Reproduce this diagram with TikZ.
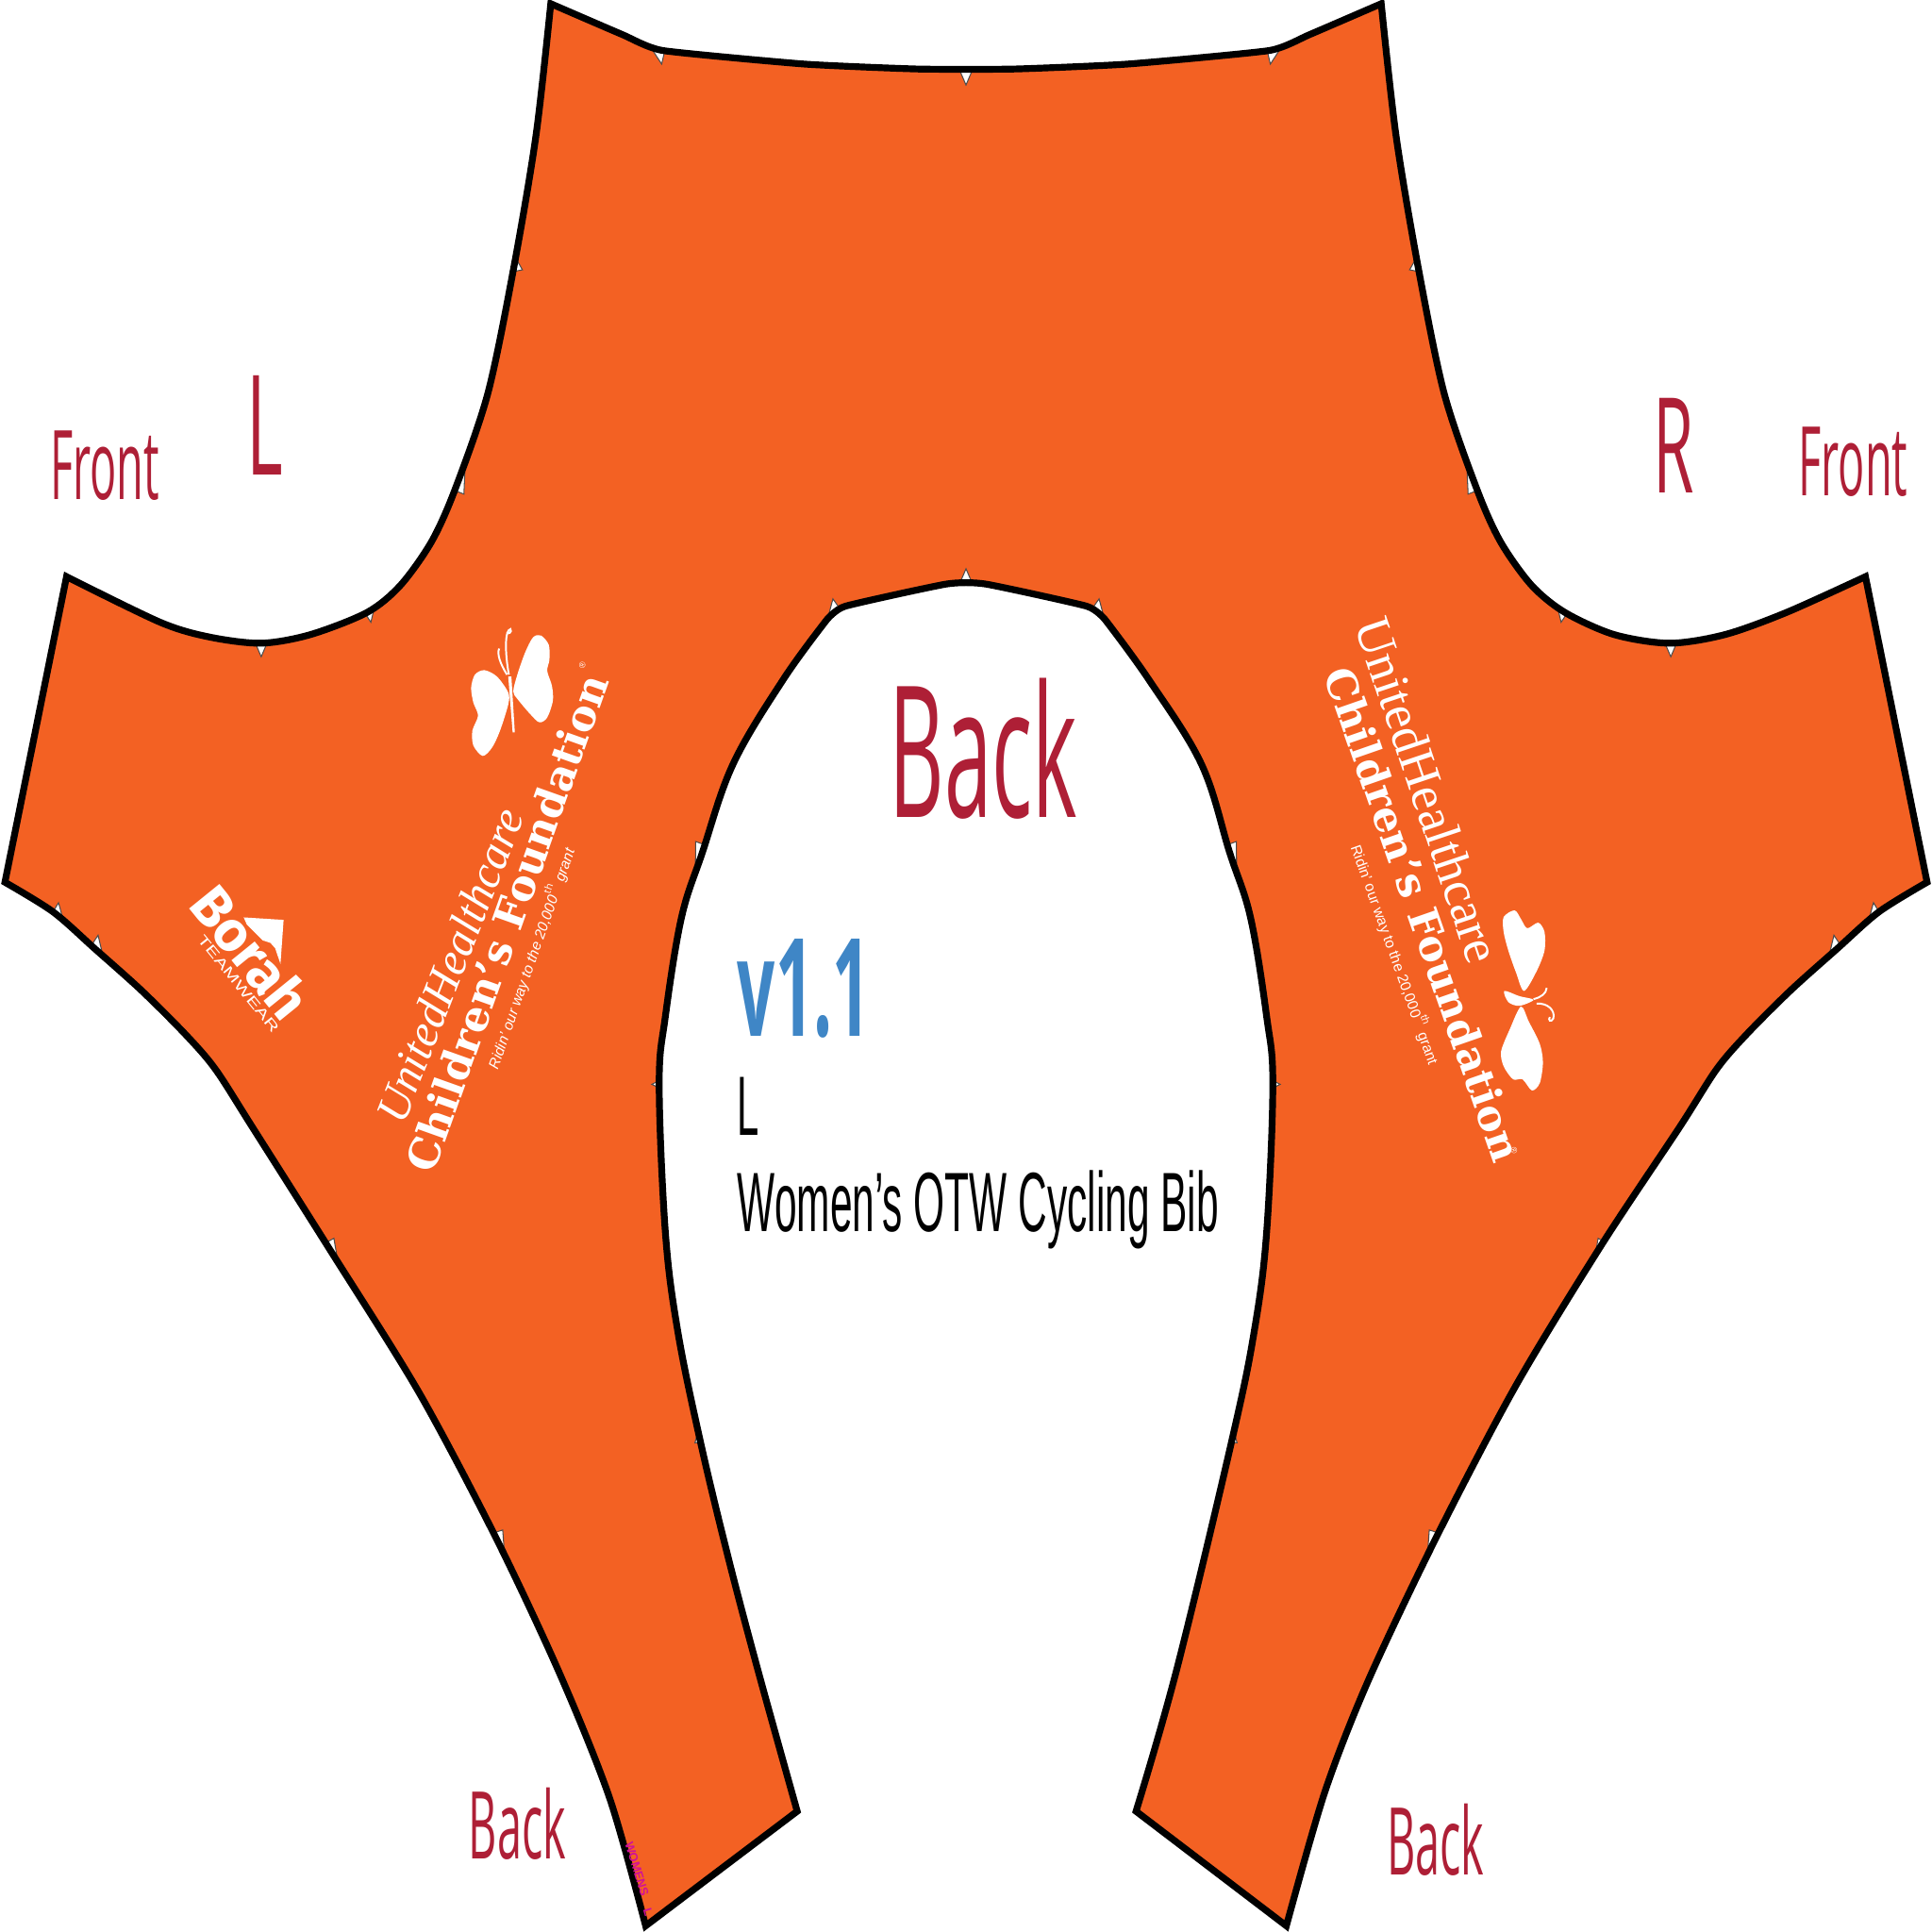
\documentclass[tikz,border=0pt]{standalone}
\usepackage{fontspec}
\setmainfont{Open Sans}
\newfontfamily\labelfont{Liberation Sans}
\newfontfamily\brandfont{Liberation Serif}
\newfontfamily\slabfont{DejaVu Serif}
\newfontfamily\borahfont{Fira Sans}
\definecolor{biborange}{HTML}{F36123}
\definecolor{sidered}{HTML}{AE1F36}
\definecolor{versionblue}{HTML}{3F86C6}
\definecolor{sizemagenta}{HTML}{D0109A}
\tikzset{
	sidelabel/.style={text=sidered, inner sep=0pt},
	infolabel/.style={text=black, inner sep=0pt, font=\labelfont},
	logotext/.style={text=white, inner sep=0pt},
	notchmark/.style={fill=white, draw=black!70, line width=.08mm},
	bibline/.style={draw=black, line width=.55mm, line join=miter}
}
\newcommand{\bibpath}{plot[smooth, tension=.3] coordinates {(447,3) (505,28) (538,41) (653,52) (745,56) (823,56) (915,52) (1030,41) (1063,28) (1121,3)}
	-- plot[smooth, tension=.5] coordinates {(1121,3) (1133,110) (1151,217) (1172,319) (1199,398) (1218,440) (1243,475) (1270,497) (1310,515) (1355,522) (1400,515) (1450,497) (1514,468)}
	-- (1564,716)
	-- plot[smooth, tension=.5] coordinates {(1564,716) (1525,740) (1491,770) (1453,804) (1417,840) (1393,868) (1363,915) (1300,1010) (1230,1125) (1165,1249) (1110,1365) (1075,1455) (1044,1563)}
	-- (922,1470)
	-- plot[smooth, tension=.6] coordinates {(922,1470) (955,1355) (1000,1168) (1018,1080) (1028,1000) (1033,880) (1028,825) (1015,745) (998,692) (975,620) (932,551) (897,503)}
	-- plot[smooth, tension=.3] coordinates {(897,503) (882,492) (800,474) (768,474) (686,492) (671,503)}
	-- plot[smooth, tension=.6] coordinates {(671,503) (636,551) (595,620) (570,692) (553,745) (540,825) (535,880) (540,1000) (550,1080) (568,1168) (590,1260) (615,1355) (647,1470)}
	-- (524,1563)
	-- plot[smooth, tension=.5] coordinates {(524,1563) (495,1460) (455,1360) (403,1249) (340,1130) (267,1013) (205,915) (175,868) (151,840) (115,804) (77,770) (43,740) (4,716)}
	-- (54,468)
	-- plot[smooth, tension=.5] coordinates {(54,468) (130,505) (170,517) (212,522) (252,515) (298,497) (325,475) (350,440) (369,398) (396,319) (417,217) (435,110) (447,3)}
	-- cycle}

\begin{document}
\begin{tikzpicture}[x=.1mm, y=-.1mm]
	\useasboundingbox (0,0) rectangle (1568,1568);
	
	\fill[biborange] \bibpath;
	
	% notches, left side and its mirror
	\begin{scope}
		\clip \bibpath;
		\foreach \x/\y/\a/\w in {537/52/10/6, 424/219/65/10, 376.5/401/33/10, 301/505/10/6, 212/533/0/6, 47.5/732.6/172/6, 79.6/759/170/6, 271/1005/154/10, 408/1241.7/146/11, 564.6/683/-145/10, 529/880/-90/7, 564/1171/-51/10, 676/486/-170/6.5} {
			\draw[notchmark, shift={(\x,\y)}, rotate=\a] (0,0)--(-\w,-14)--(\w,-14)--cycle;
			\draw[notchmark, shift={({1568-\x},\y)}, rotate=-\a] (0,0)--(-\w,-14)--(\w,-14)--cycle;
		}
		\foreach \y/\a in {69/0, 461.6/180} {
			\draw[notchmark, shift={(784,\y)}, rotate=\a] (0,0)--(-6,-14)--(6,-14)--cycle;
		}
	\end{scope}
	
	\draw[bibline] \bibpath;
	
	% side labels
	\node[sidelabel] (frontl) at (85,378) {\scalebox{.51}[1.11]{\fontsize{20pt}{20pt}\selectfont Front}};
	\node[sidelabel] (frontr) at (1504,375) {\scalebox{.51}[1.11]{\fontsize{20pt}{20pt}\selectfont Front}};
	\node[sidelabel] (sidel) at (215,345) {\scalebox{.54}[1.07]{\fontsize{30pt}{30pt}\selectfont L}};
	\node[sidelabel] (sider) at (1358,362) {\scalebox{.51}[1.02]{\fontsize{30pt}{30pt}\selectfont R}};
	\node[sidelabel] (backtop) at (798,608) {\scalebox{.657}[1.41]{\fontsize{30pt}{30pt}\selectfont Back}};
	\node[sidelabel] (backl) at (420,1480) {\scalebox{.637}[1.35]{\fontsize{16pt}{16pt}\selectfont Back}};
	\node[sidelabel] (backr) at (1165,1493) {\scalebox{.637}[1.35]{\fontsize{16pt}{16pt}\selectfont Back}};
	
	% version and size block
	\node[text=versionblue, inner sep=0pt, anchor=west] (version) at (598,802) {\scalebox{.64}[1.31]{\fontsize{24pt}{24pt}\selectfont\bfseries v1.1}};
	\node[infolabel, anchor=west] (size) at (598,898) {\scalebox{.65}[1.39]{\fontsize{14pt}{14pt}\selectfont L}};
	\node[infolabel, anchor=west] (garment) at (598,982) {\scalebox{.66}[1.39]{\fontsize{14pt}{14pt}\selectfont Women’s OTW Cycling Bib}};
	
	% left logo
	\begin{scope}[shift={(291,490)}, xscale=.2552, yscale=.3027]
		\fill[white] plot[smooth cycle, tension=.5] coordinates {(492,235) (505,190) (530,130) (555,90) (580,85) (605,110) (607,150) (600,180) (615,220) (618,260) (600,305) (575,318) (545,295) (505,255)};
		\fill[white] plot[smooth cycle, tension=.5] coordinates {(476,238) (440,195) (400,178) (370,190) (358,225) (365,265) (380,300) (362,340) (365,380) (395,408) (425,385) (450,340) (476,270)};
		\fill[white] (476,195)--(486,195)--(497,345)--(490,345)--cycle;
		\draw[white, line width=.15mm] (472,190)..controls (450,160) and (440,135)..(447,120);
		\draw[white, line width=.15mm] (478,190)..controls (465,130) and (465,70)..(483,68)..controls (490,75) and (475,85)..(472,75);
		\node[logotext, rotate=68.6] (unitedl) at (290,970) {\brandfont\itshape\fontsize{10.7pt}{10.7pt}\selectfont UnitedHealthcare};
		\node[logotext, rotate=70.4] (foundl) at (472,855) {\slabfont\bfseries\fontsize{9.7pt}{9.7pt}\selectfont Children’s Foundation};
		\node[logotext, rotate=70.6] (ridel) at (545,950) {\labelfont\itshape\fontsize{3.4pt}{3.4pt}\selectfont Ridin’ our way to the 20,000$^{\mathrm{th}}$ grant};
		\node[logotext, rotate=70] (regl) at (712,165) {\labelfont\fontsize{2pt}{2pt}\selectfont ®};
	\end{scope}
	
	% right logo
	\begin{scope}[shift={(1057,490)}, xscale=.2552, yscale=.3027]
		\fill[white] plot[smooth cycle, tension=.5] coordinates {(640,880) (640,840) (675,822) (695,845) (715,870) (750,855) (770,880) (770,930) (745,985) (705,1038) (680,990) (655,930)};
		\fill[white] plot[smooth cycle, tension=.5] coordinates {(695,1080) (720,1120) (755,1180) (765,1230) (755,1285) (730,1305) (700,1275) (670,1275) (640,1240) (632,1200) (660,1140)};
		\fill[white] plot[smooth cycle, tension=.5] coordinates {(642,1038) (690,1052) (735,1062) (690,1078) (655,1068)};
		\draw[white, line width=.15mm] (735,1060)..controls (760,1055) and (775,1045)..(777,1030);
		\draw[white, line width=.15mm] (745,1072)..controls (780,1070) and (805,1090)..(798,1112)..controls (790,1125) and (780,1115)..(787,1108);
		\node[logotext, rotate=-71.4] (unitedr) at (400,500) {\brandfont\fontsize{11.8pt}{11.8pt}\selectfont UnitedHealthcare};
		\node[logotext, rotate=-70.8] (foundr) at (385,832) {\slabfont\bfseries\fontsize{9.6pt}{9.6pt}\selectfont Children’s Foundation};
		\node[logotext, rotate=-70.3] (rider) at (298,940) {\labelfont\fontsize{3.4pt}{3.4pt}\selectfont Ridin’ our way to the 20,000$^{\mathrm{th}}$ grant};
		\node[logotext, rotate=-70] (regr) at (673,1465) {\labelfont\fontsize{2pt}{2pt}\selectfont ®};
	\end{scope}
	
	% teamwear logo
	\begin{scope}[shift={(137.8,696.8)}, scale=.2552]
		\fill[white] (235,187)--(362,195)--(352,335)--(335,285)--(320,268)--(295,260)--(270,235)--(245,210)--cycle;
		\node[logotext, rotate=-51] (borah) at (258,296) {\borahfont\bfseries\fontsize{13pt}{13pt}\selectfont Borah};
		\node[logotext, rotate=-51] (teamwear) at (218,398) {\scalebox{1.5}[1]{\labelfont\fontsize{3.2pt}{3.2pt}\selectfont TEAMWEAR}};
	\end{scope}
	
	% size stamp in the corner
	\node[text=sizemagenta, inner sep=0pt, rotate=-73] (stamp) at (517,1517) {\labelfont\bfseries\fontsize{2.8pt}{2.8pt}\selectfont WOMENS};
	\node[text=sizemagenta, inner sep=0pt, rotate=-73] (stampsize) at (526,1552) {\labelfont\bfseries\fontsize{2.8pt}{2.8pt}\selectfont L};
\end{tikzpicture}
\end{document}
